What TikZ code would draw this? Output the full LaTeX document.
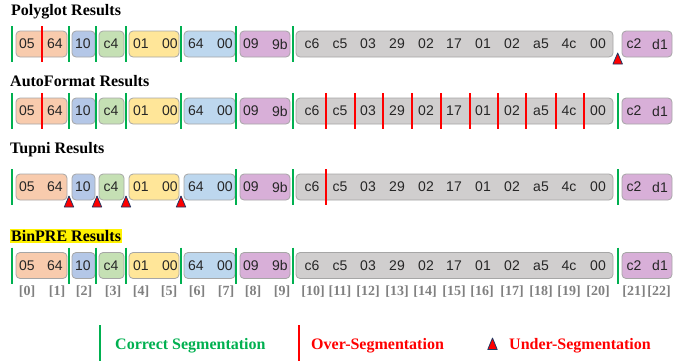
\documentclass[tikz,border=0pt]{standalone}
\usepackage{fontspec}
\setmainfont{Liberation Serif}
\newfontfamily\hexfont{Liberation Sans}

\definecolor{cOrange}{HTML}{F8CBAD}
\definecolor{cBlue}{HTML}{B4C7E7}
\definecolor{cGreen}{HTML}{C5E0B4}
\definecolor{cYellow}{HTML}{FFE699}
\definecolor{cSky}{HTML}{BDD7EE}
\definecolor{cPurple}{HTML}{D8AFD8}
\definecolor{cGray}{HTML}{D0CECE}
\definecolor{cBorder}{HTML}{A6A6A6}
\definecolor{cOk}{HTML}{00B050}
\definecolor{cOver}{HTML}{FF0000}
\definecolor{cNavy}{HTML}{1F3864}
\definecolor{cIndex}{HTML}{808080}
\definecolor{cHex}{HTML}{262626}

\tikzset{
  segbox/.style={draw=cBorder, line width=0.8pt, rounded corners=4pt,
                 minimum height=26pt, inner sep=0pt},
  bytetxt/.style={font=\hexfont\fontsize{14}{14}\selectfont, text=cHex, inner sep=0pt},
  title/.style={font=\bfseries\fontsize{16}{16}\selectfont, anchor=west, inner sep=0pt},
  idxtxt/.style={font=\bfseries\fontsize{14}{14}\selectfont, text=cIndex, inner sep=0pt},
  okline/.style={draw=cOk, line width=2.6pt},
  overline/.style={draw=cOver, line width=2.6pt},
  undermark/.style={fill=cOver, draw=cNavy, line width=0.8pt, line join=round},
  legendtxt/.style={font=\bfseries\fontsize{16}{16}\selectfont, anchor=west, inner sep=0pt},
}

% one message: coloured field boxes and the 23 bytes they hold
\newcommand\byterow[2]{%
  \foreach \nm/\xl/\xr/\col [evaluate=\xr as \w using \xr-\xl,
                             evaluate=\xr as \cx using (\xr+\xl)/2] in
     {a/16/67/cOrange, b/72/95/cBlue, c/99/124/cGreen, d/129/179/cYellow,
      e/184/235/cSky, f/240/290/cPurple, g/296/613/cGray, h/622/672/cPurple}
    {\node[segbox, fill=\col, minimum width=\w pt] (#1-\nm) at (\cx,#2) {};}
  \foreach \t/\bx [count=\i from 0] in
     {05/27, 64/55, 10/83, c4/111, 01/141, 00/170, 64/196, 00/225, 09/251, 9b/280,
      c6/312, c5/340, 03/368, 29/397, 02/426, 17/454, 01/483, 02/512, a5/541,
      4c/569, 00/598, c2/634, d1/660}
    {\node[bytetxt] (#1-t\i) at (\bx,#2) {\t};}
}
\newcommand\okbar[2]{\draw[okline] (#1,#2-18) -- (#1,#2+18);}
\newcommand\overbar[2]{\draw[overline] (#1,#2-18) -- (#1,#2+18);}
\newcommand\undertri[2]{\draw[undermark] (#1,#2+9) -- (#1+4.7,#2+20) -- (#1-4.7,#2+20) -- cycle;}

\begin{document}
\begin{tikzpicture}[x=1pt,y=-1pt]
\useasboundingbox (0,0) rectangle (673,360);

% ---------- Polyglot ----------
\node[title] (tPoly) at (11,12) {Polyglot Results};
\byterow{poly}{44}
\foreach \x in {12,69,96,126,181,236,293} {\okbar{\x}{44}}
\overbar{42}{44}
\undertri{617.7}{44}

% ---------- AutoFormat ----------
\node[title] (tAuto) at (10,81) {AutoFormat Results};
\byterow{auto}{111}
\foreach \x in {12,69,96,126,181,236,293,618} {\okbar{\x}{111}}
\foreach \x in {42,326,355,383,412,441,470,498,526,556,584} {\overbar{\x}{111}}

% ---------- Tupni ----------
\node[title] (tTupni) at (10,150) {Tupni Results};
\byterow{tupni}{187}
\foreach \x in {12,236,293,618} {\okbar{\x}{187}}
\overbar{326}{187}
\foreach \x in {69,97,126,181} {\undertri{\x}{187}}

% ---------- BinPRE ----------
\node[title, fill=yellow, inner xsep=1.5pt, inner ysep=1.5pt] (tBin) at (9.5,236) {BinPRE Results};
\byterow{bin}{265.5}
\foreach \x in {12,69,96,126,181,236,293,618} {\okbar{\x}{265.5}}

% ---------- byte indices ----------
\foreach \bx [count=\i from 0] in
   {27,57,84,113,141,169,197,226,253,282,313,340,368,397,425,454,482,512,541,569,598,634,659}
  {\node[idxtxt] (idx\i) at (\bx,292) {[\i]};}

% ---------- legend ----------
\draw[okline] (100,325) -- (100,362);
\node[legendtxt, text=cOk] (lgOk) at (115,346) {Correct Segmentation};
\draw[overline] (299,325) -- (299,362);
\node[legendtxt, text=cOver] (lgOver) at (311,346) {Over-Segmentation};
\draw[undermark] (492.5,338) -- (497.2,349.5) -- (487.8,349.5) -- cycle;
\node[legendtxt, text=cOver] (lgUnder) at (509,346) {Under-Segmentation};
\end{tikzpicture}
\end{document}
